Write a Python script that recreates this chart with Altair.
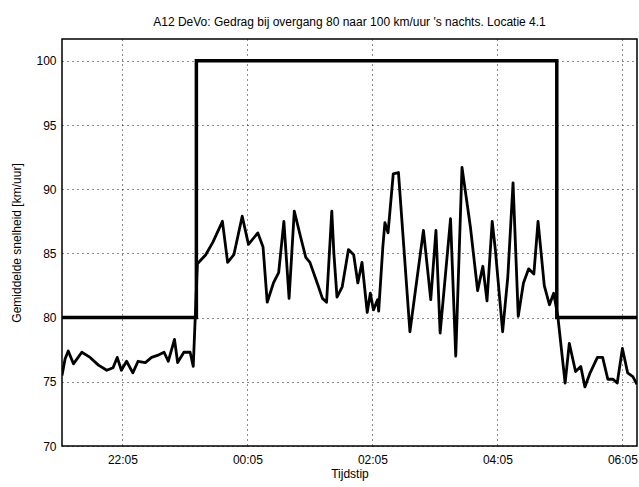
import altair as alt
import pandas as pd

speed_times = [
    "21:07", "21:10", "21:13", "21:18", "21:26", "21:34", "21:42", "21:50", "21:56", "22:00",
    "22:04", "22:09", "22:15", "22:20", "22:27", "22:33", "22:40", "22:45", "22:49", "22:55",
    "22:58", "23:04", "23:10", "23:13", "23:17", "23:25", "23:32", "23:41", "23:46", "23:52",
    "00:00", "00:06", "00:15", "00:20", "00:24", "00:30", "00:35", "00:40", "00:45", "00:50",
    "00:56", "01:01", "01:05", "01:12", "01:17", "01:21", "01:26", "01:28", "01:31", "01:36",
    "01:42", "01:47", "01:51", "01:55", "02:00", "02:03", "02:06", "02:10", "02:11", "02:15",
    "02:17", "02:20", "02:25", "02:30", "02:41", "02:54", "03:01", "03:06", "03:10", "03:20",
    "03:25", "03:31", "03:39", "03:46", "03:51", "03:55", "04:00", "04:03", "04:10", "04:15",
    "04:20", "04:25", "04:30", "04:35", "04:40", "04:44", "04:50", "04:55", "04:59", "05:03",
    "05:10", "05:14", "05:20", "05:25", "05:29", "05:34", "05:41", "05:46", "05:51", "05:56",
    "06:00", "06:05", "06:10", "06:15", "06:19",
]
speed_values = [
    75.5, 76.8, 77.4, 76.4, 77.3, 76.9, 76.3, 75.9, 76.1, 76.9,
    75.9, 76.6, 75.7, 76.6, 76.5, 76.9, 77.1, 77.3, 76.6, 78.3,
    76.5, 77.3, 77.3, 76.2, 84.2, 84.9, 85.9, 87.5, 84.3, 84.9,
    87.9, 85.7, 86.6, 85.5, 81.2, 82.7, 83.5, 87.5, 81.5, 88.3,
    86.3, 84.7, 84.3, 82.7, 81.5, 81.2, 88.3, 85.0, 81.6, 82.4,
    85.3, 84.9, 82.7, 84.3, 80.4, 81.9, 80.6, 81.4, 80.5, 85.5,
    87.4, 86.6, 91.2, 91.3, 78.9, 86.8, 81.4, 86.8, 78.8, 87.7,
    77.0, 91.7, 87.1, 82.1, 84.0, 81.3, 87.5, 85.3, 78.9, 83.2,
    90.5, 80.1, 82.7, 83.8, 83.4, 87.5, 82.5, 81.0, 81.9, 80.1,
    74.9, 78.0, 75.8, 76.2, 74.6, 75.7, 76.9, 76.9, 75.2, 75.2,
    74.9, 77.6, 75.7, 75.4, 74.8,
]

# Speed limit (km/uur)
limit_times = ["21:07", "23:16", "05:02", "06:19"]
limit_values = [80, 100, 80, 80]

tick_times = ["22:05", "00:05", "02:05", "04:05", "06:05"]
domain_times = ["21:07", "06:19"]


def to_parts(hhmm):
    h, m = map(int, hhmm.split(":"))
    day = 1 if h >= 12 else 2
    return day, h, m


def to_iso(hhmm):
    day, h, m = to_parts(hhmm)
    return f"2000-01-{day:02d}T{h:02d}:{m:02d}:00"


def to_dt(hhmm):
    day, h, m = to_parts(hhmm)
    return alt.DateTime(year=2000, month=1, date=day, hours=h, minutes=m)


speed_df = pd.DataFrame({"t": [to_iso(s) for s in speed_times], "v": speed_values})
limit_df = pd.DataFrame({"t": [to_iso(s) for s in limit_times], "v": limit_values})

FONT = "Liberation Sans"

x_enc = alt.X(
    "t:T",
    scale=alt.Scale(domain=[to_dt(d) for d in domain_times]),
    axis=alt.Axis(
        values=[to_dt(t) for t in tick_times],
        format="%H:%M",
        title="Tijdstip",
        grid=True,
        gridDash=[1, 4],
        gridColor="black",
        gridOpacity=0.9,
        ticks=False,
        domain=False,
        labelPadding=8,
        titlePadding=3,
    ),
)
y_enc = alt.Y(
    "v:Q",
    scale=alt.Scale(domain=[70, 101.7], nice=False),
    axis=alt.Axis(
        values=[70, 75, 80, 85, 90, 95, 100],
        title="Gemiddelde snelheid [km/uur]",
        grid=True,
        gridDash=[1, 4],
        gridColor="black",
        gridOpacity=0.9,
        ticks=False,
        domain=False,
        labelPadding=6,
        titlePadding=12,
    ),
)

limit_line = alt.Chart(limit_df).mark_line(
    color="black", strokeWidth=3.5, interpolate="step-after", clip=True
).encode(x=x_enc, y=y_enc)

speed_line = alt.Chart(speed_df).mark_line(
    color="black", strokeWidth=2.8, strokeJoin="round", clip=True
).encode(x=x_enc, y=y_enc)

chart = (
    alt.layer(limit_line, speed_line)
    .properties(
        width=575,
        height=407,
        autosize=alt.AutoSizeParams(type="none"),
        padding={"left": 62, "top": 39, "right": 2, "bottom": 41},
        title=alt.Title(
            "A12 DeVo: Gedrag bij overgang 80 naar 100 km/uur 's nachts. Locatie 4.1",
            fontSize=12,
            fontWeight="normal",
            font=FONT,
            color="black",
            offset=10,
        ),
    )
    .configure(background="white")
    .configure_view(stroke="black", strokeWidth=1.5)
    .configure_axis(
        labelFont=FONT,
        titleFont=FONT,
        labelFontSize=12,
        titleFontSize=12,
        labelColor="black",
        titleColor="black",
        titleFontWeight="normal",
    )
)

chart.save("out.html", embed_options={"renderer": "svg", "actions": False})
